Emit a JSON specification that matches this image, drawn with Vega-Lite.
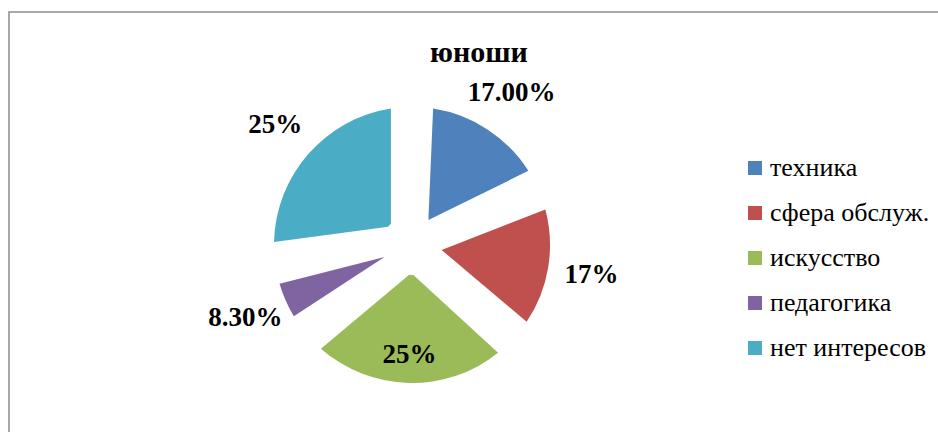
{
  "$schema": "https://vega.github.io/schema/vega-lite/v6.json",
  "width": 932,
  "height": 423,
  "autosize": {"type": "none"},
  "padding": {"left": 9, "top": 12, "right": -3, "bottom": -3},
  "background": "white",
  "title": {
    "text": "юноши",
    "font": "Liberation Serif, DejaVu Serif, serif",
    "fontSize": 30,
    "fontWeight": "bold",
    "color": "black",
    "anchor": "start",
    "frame": "group",
    "baseline": "alphabetic",
    "offset": 0,
    "dy": 81,
    "dx": 421
  },
  "datasets": {
    "shares": [
      {"n": 1, "category": "техника", "value": 17, "label": "17.00%"},
      {"n": 2, "category": "сфера обслуж.", "value": 17, "label": "17%"},
      {"n": 3, "category": "искусство", "value": 25, "label": "25%"},
      {"n": 4, "category": "педагогика", "value": 8.3, "label": "8.30%"},
      {"n": 5, "category": "нет интересов", "value": 25, "label": "25%"}
    ],
    "frame": [{"name": "frame"}]
  },
  "layer": [
    {
      "data": {"name": "frame"},
      "mark": {"type": "rect", "fill": null, "fillOpacity": 0, "stroke": "#8c8c8c", "strokeWidth": 1.5}
    },
    {
      "data": {"name": "shares"},
      "mark": {"type": "arc", "x": 403, "y": 233, "outerRadius": 138, "innerRadius": 30, "padAngle": 0.3},
      "encoding": {
        "theta": {"field": "value", "type": "quantitative", "stack": true},
        "order": {"field": "n", "type": "quantitative"},
        "color": {
          "field": "category",
          "type": "nominal",
          "scale": {
            "domain": ["техника", "сфера обслуж.", "искусство", "педагогика", "нет интересов"],
            "range": ["#4F81BD", "#C0504D", "#9BBB59", "#8064A2", "#4BACC6"]
          },
          "legend": {
            "title": null,
            "orient": "none",
            "legendX": 733,
            "legendY": 143,
            "symbolType": "square",
            "symbolSize": 196,
            "symbolStrokeWidth": 0,
            "labelFont": "Liberation Serif, DejaVu Serif, serif",
            "labelFontSize": 26,
            "labelColor": "black",
            "labelOffset": 2,
            "rowPadding": 19
          }
        }
      }
    },
    {
      "data": {"name": "shares"},
      "mark": {"type": "text", "x": 403, "y": 233, "radius": 182, "font": "Liberation Serif, DejaVu Serif, serif", "fontSize": 27, "fontWeight": "bold", "color": "black", "align": "center", "baseline": "middle"},
      "encoding": {
        "theta": {"field": "value", "type": "quantitative", "stack": true},
        "order": {"field": "n", "type": "quantitative"},
        "text": {"condition": {"test": "datum.category === 'искусство'", "value": ""}, "field": "label", "type": "nominal"}
      }
    },
    {
      "data": {"name": "shares"},
      "mark": {"type": "text", "x": 403, "y": 233, "radius": 110, "font": "Liberation Serif, DejaVu Serif, serif", "fontSize": 27, "fontWeight": "bold", "color": "black", "align": "center", "baseline": "middle"},
      "encoding": {
        "theta": {"field": "value", "type": "quantitative", "stack": true},
        "order": {"field": "n", "type": "quantitative"},
        "text": {"condition": {"test": "datum.category !== 'искусство'", "value": ""}, "field": "label", "type": "nominal"}
      }
    }
  ],
  "config": {
    "font": "Liberation Serif, DejaVu Serif, serif",
    "view": {"stroke": null},
    "legend": {"labelFont": "Liberation Serif, DejaVu Serif, serif"}
  }
}
